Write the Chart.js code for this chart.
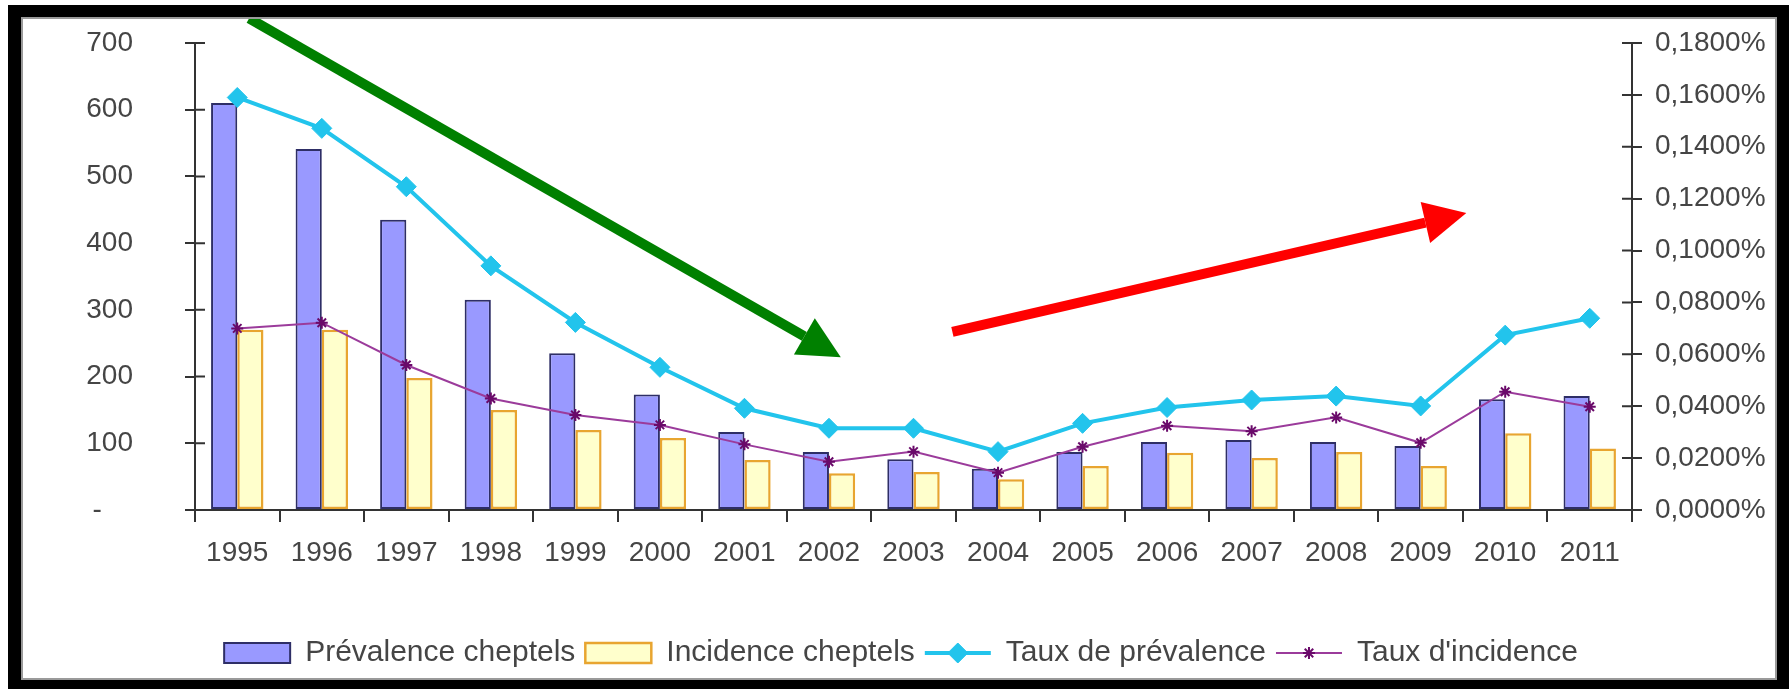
<!DOCTYPE html>
<html>
<head>
<meta charset="utf-8">
<script src="https://cdn.jsdelivr.net/npm/chart.js@4/dist/chart.umd.min.js"></script>
<style>
  html, body { margin: 0; padding: 0; background: #fff; }
  #wrap { position: relative; width: 1789px; height: 689px; overflow: hidden; }
  #frame {
    position: absolute; left: 8px; top: 5px; right: 0; bottom: 0;
    border-style: solid; border-color: #000;
    border-width: 12px 12px 9px 13px;
    box-shadow: inset 0 0 0 2px #9a9a9a;
    pointer-events: none;
  }
  canvas { position: absolute; left: 0; top: 0; }
</style>
</head>
<body>
<div id="wrap">
  <canvas id="chart" width="1789" height="689"></canvas>
  <div id="frame"></div>
</div>
<script>
// data
const years = ['1995', '1996', '1997', '1998', '1999', '2000', '2001', '2002', '2003',
  '2004', '2005', '2006', '2007', '2008', '2009', '2010', '2011'];
const prevalenceCheptels = [610, 541, 435, 315, 235, 173, 117, 87, 76, 62, 87, 102, 105, 102, 96, 166, 171];
const incidenceCheptels = [270, 270, 198, 150, 120, 108, 75, 55, 57, 46, 66, 86, 78, 87, 66, 115, 92];
// rates in percent
const tauxPrevalence = [0.159, 0.1471, 0.1246, 0.0941, 0.0723, 0.055, 0.0392, 0.0315, 0.0315,
  0.0225, 0.0334, 0.0395, 0.0424, 0.0439, 0.0401, 0.0674, 0.0739];
const tauxIncidence = [0.070, 0.0722, 0.0559, 0.043, 0.0366, 0.0328, 0.0253, 0.0186, 0.0225,
  0.0144, 0.0244, 0.0325, 0.0304, 0.0357, 0.0259, 0.0456, 0.0398];

// annotation arrows, in (category index, left axis value)
const greenArrow = { from: [0.14, 737], to: [7.14, 229], color: '#008000' };
const redArrow = { from: [8.46, 267], to: [14.54, 445], color: '#ff0000' };

const FONT = '"Liberation Sans", Arial, sans-serif';
const TEXT = '#454545';
const AXIS = '#333333';

const arrowsPlugin = {
  id: 'arrows',
  afterDatasetsDraw(chart) {
    const { ctx, scales } = chart;
    [greenArrow, redArrow].forEach((a) => {
      const x1 = scales.x.getPixelForValue(a.from[0]);
      const y1 = scales.y.getPixelForValue(a.from[1]);
      const x2 = scales.x.getPixelForValue(a.to[0]);
      const y2 = scales.y.getPixelForValue(a.to[1]);
      const ang = Math.atan2(y2 - y1, x2 - x1);
      const headLen = 42, headHalf = 21;
      const bx = x2 - headLen * Math.cos(ang);
      const by = y2 - headLen * Math.sin(ang);
      ctx.save();
      ctx.strokeStyle = a.color;
      ctx.fillStyle = a.color;
      ctx.lineWidth = 10;
      ctx.beginPath();
      ctx.moveTo(x1, y1);
      ctx.lineTo(bx, by);
      ctx.stroke();
      ctx.beginPath();
      ctx.moveTo(x2, y2);
      ctx.lineTo(bx + headHalf * Math.sin(ang), by - headHalf * Math.cos(ang));
      ctx.lineTo(bx - headHalf * Math.sin(ang), by + headHalf * Math.cos(ang));
      ctx.closePath();
      ctx.fill();
      ctx.restore();
    });
  }
};

// tick marks crossing the axis lines on the inner side
const innerTicksPlugin = {
  id: 'innerTicks',
  afterDraw(chart) {
    const { ctx, scales, chartArea } = chart;
    ctx.save();
    ctx.strokeStyle = AXIS;
    ctx.lineWidth = 2;
    ctx.beginPath();
    scales.y.ticks.forEach((t, i) => {
      const y = scales.y.getPixelForTick(i);
      ctx.moveTo(chartArea.left, y);
      ctx.lineTo(chartArea.left + 10, y);
    });
    scales.y1.ticks.forEach((t, i) => {
      const y = scales.y1.getPixelForTick(i);
      ctx.moveTo(chartArea.right, y);
      ctx.lineTo(chartArea.right - 10, y);
    });
    ctx.stroke();
    ctx.restore();
  }
};

// line + marker symbols in the legend
const legendLinesPlugin = {
  id: 'legendLines',
  afterDraw(chart) {
    const legend = chart.legend;
    if (!legend || !legend.legendHitBoxes) return;
    const { ctx } = chart;
    const bw = legend.options.labels.boxWidth;
    legend.legendItems.forEach((item, i) => {
      const ds = chart.data.datasets[item.datasetIndex];
      if (ds.type !== 'line') return;
      const hb = legend.legendHitBoxes[i];
      const cy = hb.top + hb.height / 2;
      ctx.save();
      ctx.strokeStyle = ds.borderColor;
      ctx.lineWidth = ds.borderWidth;
      ctx.beginPath();
      ctx.moveTo(hb.left, cy);
      ctx.lineTo(hb.left + bw, cy);
      ctx.stroke();
      ctx.fillStyle = ds.pointBackgroundColor;
      ctx.strokeStyle = ds.pointBorderColor;
      ctx.lineWidth = ds.pointBorderWidth;
      Chart.helpers.drawPoint(ctx, {
        pointStyle: ds.pointStyle, radius: ds.pointRadius, rotation: 0, borderWidth: ds.pointBorderWidth
      }, hb.left + bw / 2, cy);
      ctx.restore();
    });
  }
};

const ctx = document.getElementById('chart').getContext('2d');
new Chart(ctx, {
  data: {
    labels: years,
    datasets: [
      {
        type: 'bar',
        label: 'Prévalence cheptels',
        data: prevalenceCheptels,
        backgroundColor: '#9999ff',
        borderColor: '#2e2e66',
        borderWidth: 2,
        borderSkipped: false,
        yAxisID: 'y',
        order: 2
      },
      {
        type: 'bar',
        label: 'Incidence cheptels',
        data: incidenceCheptels,
        backgroundColor: '#ffffcc',
        borderColor: '#e8a530',
        borderWidth: 2.5,
        borderSkipped: false,
        yAxisID: 'y',
        order: 2
      },
      {
        type: 'line',
        label: 'Taux de prévalence',
        data: tauxPrevalence,
        borderColor: '#22c4ec',
        borderWidth: 4,
        pointStyle: 'rectRot',
        pointRadius: 10,
        pointBackgroundColor: '#22c4ec',
        pointBorderColor: '#22c4ec',
        pointBorderWidth: 1,
        tension: 0,
        yAxisID: 'y1',
        order: 1
      },
      {
        type: 'line',
        label: "Taux d'incidence",
        data: tauxIncidence,
        borderColor: '#9b3b9b',
        borderWidth: 2,
        pointStyle: 'star',
        pointRadius: 6,
        pointBackgroundColor: '#6a0a6a',
        pointBorderColor: '#6a0a6a',
        pointBorderWidth: 2,
        tension: 0,
        yAxisID: 'y1',
        order: 0
      }
    ]
  },
  options: {
    responsive: false,
    animation: false,
    layout: { padding: { left: 13, right: 0, top: 43, bottom: 11 } },
    datasets: {
      bar: { categoryPercentage: 0.62, barPercentage: 1.0 }
    },
    scales: {
      x: {
        offset: true,
        grid: { display: true, offset: true, drawOnChartArea: false, tickLength: 12, color: AXIS, lineWidth: 2 },
        border: { color: AXIS, width: 2 },
        ticks: { color: TEXT, font: { family: FONT, size: 28 }, padding: 14, maxRotation: 0, autoSkip: false },
        afterFit(scale) { scale.height = 118; }
      },
      y: {
        position: 'left',
        min: 0,
        max: 700,
        grid: { drawOnChartArea: false, tickLength: 10, color: AXIS, lineWidth: 2 },
        border: { color: AXIS, width: 2 },
        ticks: {
          stepSize: 100,
          color: TEXT,
          font: { family: FONT, size: 28 },
          padding: 52,
          callback: (v) => (v === 0 ? '-    ' : v)
        },
        afterFit(scale) {
          scale.width = 182;
          scale.paddingTop = 0;
          scale.paddingBottom = 0;
        }
      },
      y1: {
        position: 'right',
        min: 0,
        max: 0.18,
        grid: { drawOnChartArea: false, tickLength: 10, color: AXIS, lineWidth: 2 },
        border: { color: AXIS, width: 2 },
        ticks: {
          stepSize: 0.02,
          color: TEXT,
          font: { family: FONT, size: 28 },
          padding: 13,
          callback: (v) => v.toFixed(4).replace('.', ',') + '%'
        },
        afterFit(scale) {
          scale.width = 157;
          scale.paddingTop = 0;
          scale.paddingBottom = 0;
        }
      }
    },
    plugins: {
      legend: {
        position: 'bottom',
        labels: {
          boxWidth: 66,
          boxHeight: 20,
          padding: 10,
          color: TEXT,
          font: { family: FONT, size: 30 },
          sort: (a, b) => a.datasetIndex - b.datasetIndex,
          generateLabels(chart) {
            const items = Chart.defaults.plugins.legend.labels.generateLabels(chart);
            items.forEach((it) => {
              if (chart.data.datasets[it.datasetIndex].type === 'line') {
                it.fillStyle = 'rgba(0,0,0,0)';
                it.strokeStyle = 'rgba(0,0,0,0)';
                it.lineWidth = 0;
              }
            });
            return items;
          }
        }
      },
      tooltip: { enabled: false }
    }
  },
  plugins: [arrowsPlugin, innerTicksPlugin, legendLinesPlugin]
});
</script>
</body>
</html>
